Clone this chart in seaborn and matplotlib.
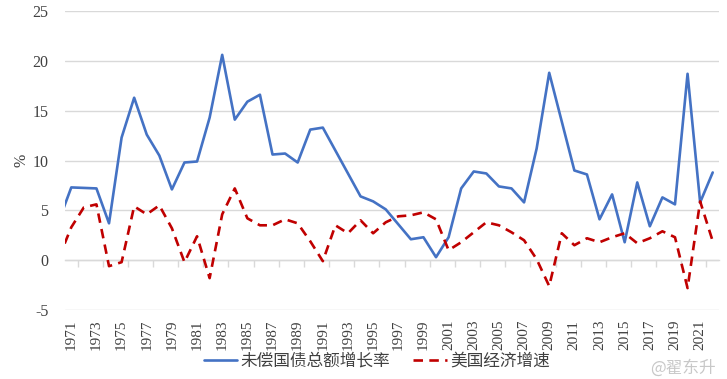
import pandas as pd
import matplotlib
matplotlib.use('Agg')
import matplotlib.pyplot as plt
import seaborn as sns

years = list(range(1970, 2023))
debt_growth = [3.9, 7.3, 7.25, 7.2, 3.7, 12.3, 16.3, 12.6, 10.5, 7.1,
               9.8, 9.9, 14.3, 20.6, 14.1, 15.9, 16.6, 10.6, 10.7, 9.8,
               13.1, 13.3, 11.0, 8.7, 6.4, 5.9, 5.1, 3.6, 2.1, 2.3,
               0.3, 2.3, 7.2, 8.9, 8.7, 7.4, 7.2, 5.8, 11.2, 18.8,
               13.9, 9.0, 8.6, 4.1, 6.6, 1.8, 7.8, 3.4, 6.3, 5.6,
               18.7, 5.8, 8.8]
gdp_growth = [0.2, 3.3, 5.3, 5.6, -0.6, -0.2, 5.4, 4.6, 5.5, 3.2,
              -0.2, 2.4, -1.8, 4.6, 7.2, 4.2, 3.5, 3.5, 4.1, 3.7,
              1.9, -0.1, 3.5, 2.7, 4.0, 2.7, 3.8, 4.4, 4.5, 4.8,
              4.1, 1.0, 1.8, 2.8, 3.8, 3.5, 2.8, 2.0, 0.1, -2.6,
              2.7, 1.5, 2.2, 1.8, 2.3, 2.7, 1.7, 2.2, 2.9, 2.3,
              -2.8, 5.9, 1.9]
labels = ['未偿国债总额增长率', '美国经济增速']

df = pd.DataFrame({'year': years, 'debt': debt_growth, 'gdp': gdp_growth})

sns.set_style('white')
plt.rcParams['font.family'] = ['Liberation Serif', 'Noto Sans CJK SC', 'DejaVu Sans']
plt.rcParams['axes.unicode_minus'] = False

fig, ax = plt.subplots(figsize=(7.27, 3.79), dpi=100)
fig.subplots_adjust(left=0.0894, right=0.989, top=0.971, bottom=0.182)

sns.lineplot(data=df, x='year', y='debt', color='#4472C4', linewidth=1.9,
             label=labels[0], ax=ax)
sns.lineplot(data=df, x='year', y='gdp', color='#C00000', linewidth=1.9,
             linestyle=(0, (3.6, 2.4)), label=labels[1], ax=ax)

ax.set_xlim(1970.5, 2022.5)
ax.set_ylim(-5, 25)
ax.set_yticks(range(-5, 26, 5))
ax.yaxis.grid(True, color='#d9d9d9', linewidth=1)
ax.set_axisbelow(True)
for s in ax.spines.values():
    s.set_visible(False)

ax.set_xticks(years[1::2])
ax.set_xticklabels([str(y) for y in years[1::2]], rotation=90)
ax.tick_params(axis='x', length=0, pad=7, labelsize=11, labelcolor='#404040')
ax.tick_params(axis='y', length=0, pad=12, labelsize=11.5, labelcolor='#404040')
ax.set_xlabel('')
ax.set_ylabel('%', fontsize=11.5, color='#404040', labelpad=2)

# tick marks on the zero line, between categories
zero_axis = ax.secondary_xaxis(1 / 6)
zero_axis.set_xticks([y - 0.5 for y in years[::2]])
zero_axis.tick_params(axis='x', length=5, width=1, color='#d9d9d9',
                      labelbottom=False, labeltop=False, direction='out')
zero_axis.spines['bottom'].set_color('#d9d9d9')
zero_axis.spines['bottom'].set_linewidth(1)

leg = ax.legend(loc='center', bbox_to_anchor=(0.518, 0.045),
                bbox_transform=fig.transFigure, ncol=2, frameon=False,
                fontsize=12, handlelength=2.0, columnspacing=1.4,
                handletextpad=0.2)
for t in leg.get_texts():
    t.set_color('#404040')

fig.text(0.985, 0.03, '@翟东升', ha='right', va='center', fontsize=12,
         color='#c8c8c8', family=['Noto Sans CJK SC', 'DejaVu Sans'])

plt.savefig('out.png', dpi=100)
plt.close()
